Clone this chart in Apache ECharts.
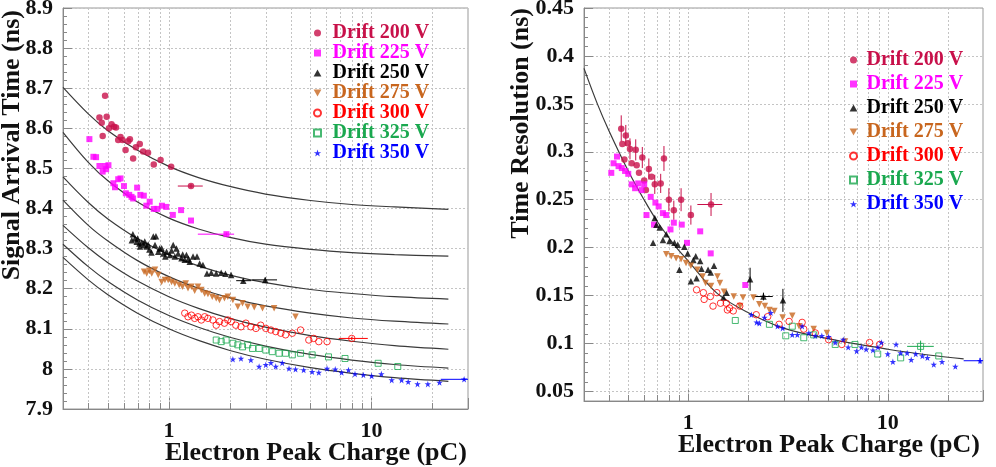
<!DOCTYPE html>
<html>
<head>
<meta charset="utf-8">
<script src="https://cdn.jsdelivr.net/npm/echarts@6.0.0/dist/echarts.min.js"></script>
<style>
  html, body { margin: 0; padding: 0; background: #fff; }
  #chart { width: 996px; height: 467px; }
</style>
</head>
<body>
<div id="chart"></div>
<script>
  var names = ['Drift 200 V', 'Drift 225 V', 'Drift 250 V', 'Drift 275 V', 'Drift 300 V', 'Drift 325 V', 'Drift 350 V'];
  var colors = ['#c8104a', '#ff00ff', '#000000', '#c8661e', '#ff0000', '#1aa84f', '#0000ff'];

  // tick labels on the log axes
  var xTickLabels = [1, 10];
  // light grid lines in x (ROOT log grid)
  var gridX = [0.4, 0.5, 0.6, 0.7, 0.8, 0.9, 1, 2, 3, 4, 5, 6, 7, 8, 9, 10, 20];

  /* ---- left: signal arrival time (ns) ---- */
  var L200 = [[0.484,8.681],[0.454,8.627],[0.493,8.629],[0.466,8.614],[0.471,8.581],[0.506,8.600],[0.521,8.610],[0.536,8.604],[0.548,8.602],[0.562,8.571],[0.577,8.578],[0.590,8.571],[0.611,8.546],[0.630,8.568],[0.642,8.573],[0.666,8.525],[0.687,8.553],[0.718,8.561],[0.746,8.542],[0.789,8.539],[0.842,8.510],[0.910,8.521],[1.026,8.504],[1.286,8.456]];
  var L225 = [[0.405,8.573],[0.424,8.529],[0.437,8.528],[0.454,8.506],[0.471,8.492],[0.484,8.506],[0.503,8.508],[0.490,8.498],[0.562,8.473],[0.577,8.475],[0.532,8.463],[0.542,8.453],[0.600,8.456],[0.613,8.438],[0.637,8.434],[0.654,8.429],[0.666,8.425],[0.697,8.452],[0.723,8.434],[0.752,8.432],[0.774,8.407],[0.804,8.417],[0.842,8.399],[0.877,8.399],[0.924,8.407],[0.970,8.404],[1.046,8.384],[1.149,8.396],[1.286,8.370],[1.924,8.336]];
  var L250 = [[0.664,8.336],[0.656,8.321],[0.681,8.326],[0.694,8.317],[0.715,8.313],[0.735,8.315],[0.754,8.309],[0.777,8.305],[0.801,8.298],[0.838,8.330],[0.854,8.309],[0.863,8.331],[0.886,8.292],[0.921,8.301],[0.938,8.288],[0.974,8.292],[1.011,8.284],[1.050,8.309],[1.070,8.280],[1.111,8.288],[1.154,8.276],[1.198,8.272],[1.221,8.284],[1.268,8.267],[1.316,8.280],[1.377,8.280],[1.419,8.263],[1.473,8.259],[1.542,8.238],[1.619,8.240],[1.713,8.238],[1.813,8.240],[1.902,8.237],[2.03,8.234],[2.33,8.220],[2.99,8.222],[0.70,8.325],[0.72,8.305],[0.76,8.318],[0.79,8.310],[0.82,8.290],[0.90,8.300],[0.96,8.280],[1.03,8.295],[1.09,8.300],[1.17,8.285],[1.25,8.275]];
  var L275 = [[0.754,8.242],[0.777,8.238],[0.801,8.245],[0.823,8.238],[0.854,8.247],[0.886,8.234],[0.921,8.217],[0.956,8.222],[0.992,8.222],[1.031,8.217],[1.070,8.213],[1.124,8.209],[1.167,8.205],[1.211,8.213],[1.243,8.201],[1.292,8.205],[1.341,8.195],[1.392,8.205],[1.446,8.197],[1.502,8.188],[1.559,8.187],[1.637,8.180],[1.713,8.176],[1.778,8.172],[1.881,8.176],[1.954,8.180],[2.07,8.172],[2.19,8.155],[2.31,8.164],[2.45,8.155],[2.64,8.154],[2.90,8.151],[3.31,8.151],[4.22,8.130]];
  var L300 = [[1.198,8.139],[1.243,8.130],[1.292,8.134],[1.341,8.126],[1.392,8.130],[1.446,8.122],[1.502,8.130],[1.559,8.126],[1.649,8.122],[1.713,8.109],[1.778,8.118],[1.881,8.114],[1.954,8.122],[2.03,8.118],[2.14,8.109],[2.27,8.105],[2.40,8.114],[2.54,8.105],[2.69,8.101],[2.84,8.109],[3.01,8.101],[3.19,8.097],[3.37,8.093],[3.57,8.089],[3.77,8.085],[4.07,8.089],[4.47,8.097],[4.91,8.072],[5.19,8.076],[5.50,8.068],[6.04,8.068],[8.0,8.076]];
  var L325 = [[1.713,8.072],[1.813,8.068],[1.917,8.072],[2.07,8.064],[2.19,8.060],[2.31,8.055],[2.45,8.060],[2.59,8.051],[2.79,8.051],[3.01,8.047],[3.24,8.043],[3.50,8.039],[3.77,8.039],[4.07,8.035],[4.47,8.039],[5.10,8.035],[6.14,8.030],[7.41,8.026],[10.8,8.014],[13.5,8.006]];
  var L350 = [[2.07,8.024],[2.27,8.026],[2.54,8.022],[2.79,8.006],[3.01,8.010],[3.19,8.015],[3.37,8.006],[3.63,8.015],[3.92,8.001],[4.22,7.999],[4.63,7.997],[5.10,7.993],[5.50,7.991],[6.04,8.001],[6.63,7.999],[7.13,7.991],[7.71,7.997],[8.30,7.987],[9.13,7.985],[10.03,7.982],[11.2,7.987],[12.6,7.972],[14.1,7.972],[15.2,7.968],[16.9,7.962],[19.0,7.962],[21.7,7.966],[28.7,7.974]];

  // error bars: [x, y, xlo, xhi, ylo, yhi]
  var eL200 = [[1.286,8.456,1.107,1.47,8.451,8.461]];
  var eL225 = [[1.924,8.336,1.39,2.1,8.332,8.340]];
  var eL250 = [[2.33,8.220,2.15,2.55,8.216,8.224],[2.99,8.222,2.58,3.42,8.216,8.228]];
  var eL300 = [[8.0,8.076,6.9,9.6,8.072,8.080]];
  var eL350 = [[28.7,7.974,22,36,7.971,7.977]];

  // fitted curves, read at these charges
  var fitX = [0.3, 0.4, 0.5, 0.7, 1, 1.4, 2, 3, 5, 8, 13, 24];
  var fit200 = [8.702, 8.636, 8.594, 8.545, 8.505, 8.477, 8.455, 8.436, 8.420, 8.410, 8.404, 8.398];
  var fit225 = [8.590, 8.515, 8.469, 8.416, 8.376, 8.349, 8.328, 8.311, 8.298, 8.290, 8.285, 8.281];
  var fit250 = [8.479, 8.415, 8.374, 8.325, 8.285, 8.257, 8.234, 8.215, 8.198, 8.188, 8.180, 8.174];
  var fit275 = [8.421, 8.358, 8.319, 8.270, 8.230, 8.201, 8.177, 8.157, 8.139, 8.127, 8.119, 8.112];
  var fit300 = [8.358, 8.302, 8.265, 8.219, 8.180, 8.151, 8.126, 8.104, 8.083, 8.069, 8.058, 8.049];
  var fit325 = [8.311, 8.255, 8.218, 8.172, 8.133, 8.104, 8.079, 8.057, 8.036, 8.022, 8.011, 8.002];
  var fit350 = [8.278, 8.222, 8.185, 8.139, 8.100, 8.071, 8.046, 8.024, 8.003, 7.989, 7.978, 7.969];

  /* ---- right: time resolution (ns) ---- */
  var R200 = [[0.461,0.324],[0.486,0.317],[0.467,0.308],[0.497,0.309],[0.510,0.303],[0.545,0.302],[0.478,0.292],[0.520,0.288],[0.551,0.286],[0.588,0.294],[0.566,0.278],[0.634,0.282],[0.654,0.274],[0.601,0.270],[0.679,0.266],[0.727,0.267],[0.613,0.260],[0.755,0.293],[0.799,0.250],[0.920,0.250],[0.846,0.239],[1.03,0.234],[1.30,0.245]];
  var R225 = [[0.411,0.278],[0.422,0.288],[0.439,0.295],[0.447,0.285],[0.464,0.283],[0.482,0.280],[0.500,0.277],[0.520,0.266],[0.541,0.262],[0.561,0.267],[0.583,0.260],[0.601,0.266],[0.617,0.234],[0.648,0.253],[0.673,0.224],[0.684,0.247],[0.710,0.243],[0.746,0.236],[0.775,0.234],[0.814,0.219],[0.846,0.226],[0.927,0.224],[0.985,0.205],[1.147,0.217],[1.295,0.194],[1.93,0.161]];
  var R250 = [[0.679,0.231],[0.692,0.224],[0.719,0.221],[0.666,0.205],[0.746,0.208],[0.775,0.214],[0.805,0.207],[0.852,0.205],[0.885,0.203],[0.955,0.201],[0.992,0.194],[0.902,0.177],[1.03,0.165],[1.09,0.191],[1.147,0.186],[1.164,0.178],[1.256,0.177],[1.295,0.174],[1.345,0.181],[1.554,0.153],[2.04,0.167],[2.38,0.149],[2.98,0.145],[1.06,0.187],[1.10,0.168],[1.50,0.148]];
  var R275 = [[0.775,0.193],[0.821,0.191],[0.869,0.189],[0.920,0.188],[0.974,0.184],[1.03,0.181],[1.11,0.177],[1.18,0.170],[1.22,0.163],[1.30,0.160],[1.40,0.170],[1.51,0.154],[1.69,0.149],[1.82,0.139],[2.12,0.148],[2.42,0.139],[1.44,0.163],[1.88,0.148],[2.27,0.141],[2.55,0.135],[2.70,0.134],[2.97,0.127],[3.32,0.129],[3.59,0.118],[4.25,0.115],[4.95,0.111],[6.1,0.102]];
  var R300 = [[1.10,0.156],[1.19,0.153],[1.29,0.149],[1.39,0.153],[1.55,0.142],[1.61,0.137],[1.81,0.139],[2.19,0.130],[2.50,0.128],[2.85,0.120],[3.20,0.123],[3.72,0.122],[3.79,0.115],[4.33,0.111],[5.05,0.104],[5.88,0.099],[8.1,0.101],[9.1,0.099],[1.20,0.146],[1.33,0.139],[1.45,0.142],[1.57,0.135],[1.68,0.134]];
  var R325 = [[1.72,0.124],[2.55,0.120],[3.08,0.108],[3.32,0.118],[3.79,0.106],[4.25,0.109],[5.45,0.099],[6.84,0.099],[8.9,0.089],[11.6,0.085],[14.6,0.097],[18.0,0.087]];
  var R350 = [[2.07,0.130],[2.20,0.122],[2.27,0.121],[2.41,0.127],[2.59,0.132],[2.80,0.118],[2.97,0.116],[3.32,0.109],[3.52,0.109],[3.72,0.118],[4.02,0.111],[4.33,0.108],[4.67,0.108],[5.05,0.107],[5.45,0.101],[5.98,0.104],[6.33,0.096],[6.98,0.092],[7.37,0.096],[7.79,0.094],[8.42,0.093],[8.92,0.096],[9.28,0.101],[9.99,0.089],[10.6,0.081],[11.0,0.099],[11.6,0.090],[12.5,0.090],[13.1,0.083],[13.8,0.089],[14.9,0.087],[15.8,0.085],[17.0,0.078],[18.7,0.081],[21.8,0.076],[29,0.082]];

  var eR200 = [[0.461,0.324,0.461,0.461,0.311,0.338],[0.486,0.317,0.486,0.486,0.306,0.328],[0.510,0.303,0.510,0.510,0.292,0.314],[0.545,0.302,0.545,0.545,0.291,0.313],[0.588,0.294,0.588,0.588,0.283,0.305],[0.634,0.282,0.634,0.634,0.271,0.293],[0.679,0.266,0.679,0.679,0.256,0.276],[0.727,0.267,0.727,0.727,0.257,0.277],[0.755,0.293,0.755,0.755,0.280,0.306],[0.799,0.250,0.799,0.799,0.238,0.262],[0.846,0.239,0.846,0.846,0.229,0.249],[0.920,0.250,0.920,0.920,0.238,0.262],[1.03,0.234,1.03,1.03,0.224,0.244],[1.30,0.245,1.11,1.48,0.233,0.257]];
  var eR250 = [[2.04,0.167,2.04,2.04,0.155,0.179],[2.38,0.149,2.15,2.65,0.145,0.153],[2.98,0.145,2.98,2.98,0.133,0.157]];
  var eR325 = [[14.6,0.097,12.5,17,0.091,0.103]];
  var eR350 = [[29,0.082,24,35,0.079,0.085]];

  var fitRX = [0.3, 0.35, 0.4, 0.5, 0.6, 0.7, 0.85, 1, 1.4, 2, 3, 5, 10, 16, 24];
  var fitRY = [0.387, 0.350, 0.322, 0.280, 0.250, 0.227, 0.203, 0.186, 0.152, 0.132, 0.116, 0.105, 0.094, 0.088, 0.084];

  var square = 'path://M0,0L10,0L10,10L0,10Z';
  var upTri = 'path://M5,0L10,9L0,9Z';
  var downTri = 'path://M0,0L10,0L5,9Z';
  var star = 'path://M5,0L6.2,3.6L10,3.6L7,5.8L8.1,9.5L5,7.2L1.9,9.5L3,5.8L0,3.6L3.8,3.6Z';
  var symbols = ['circle', square, upTri, downTri, 'circle', square, star];
  var hollow = [false, false, false, false, true, true, false];
  var sizes = [6.5, 6, 6.5, 6.5, 6.5, 6, 6.5];

  var FONT = '"Liberation Serif", "DejaVu Serif", serif';
  var chart = echarts.init(document.getElementById('chart'));

  function scatter(i, data, ax) {
    return {
      name: names[i], type: 'scatter', xAxisIndex: ax, yAxisIndex: ax, data: data,
      symbol: symbols[i], symbolSize: sizes[i], z: 4, silent: true,
      itemStyle: hollow[i]
        ? {color: 'rgba(255,255,255,0)', borderColor: colors[i], borderWidth: 1}
        : {color: colors[i]}
    };
  }

  function fitLine(xs, ys, ax) {
    return {
      type: 'line', xAxisIndex: ax, yAxisIndex: ax, z: 2, silent: true,
      data: xs.map(function (x, k) { return [x, ys[k]]; }),
      symbol: 'none', smooth: 0.35,
      lineStyle: {color: '#3a3a3a', width: 1.2}
    };
  }

  function errSeries(i, data, ax) {
    return {
      type: 'custom', xAxisIndex: ax, yAxisIndex: ax, z: 3, silent: true, data: data, clip: true,
      encode: {x: 0, y: 1}, itemStyle: {color: colors[i]},
      renderItem: function (params, api) {
        var y = api.value(1), x = api.value(0);
        var a = api.coord([api.value(2), y]), b = api.coord([api.value(3), y]);
        var c = api.coord([x, api.value(4)]), d = api.coord([x, api.value(5)]);
        var st = {stroke: colors[i], lineWidth: 1};
        return {type: 'group', children: [
          {type: 'line', shape: {x1: a[0], y1: a[1], x2: b[0], y2: b[1]}, style: st},
          {type: 'line', shape: {x1: c[0], y1: c[1], x2: d[0], y2: d[1]}, style: st}
        ]};
      }
    };
  }

  // vertical dotted grid + small minor ticks on the log x axes
  function gridSeries(ax, yRef) {
    return {
      type: 'custom', xAxisIndex: ax, yAxisIndex: ax, z: 1, silent: true,
      data: gridX.map(function (v) { return [v, yRef]; }),
      encode: {x: 0, y: 1},
      renderItem: function (params, api) {
        var cs = params.coordSys;
        var px = Math.round(api.coord([api.value(0), api.value(1)])[0]) + 0.5;
        var bottom = cs.y + cs.height;
        return {type: 'group', children: [
          {type: 'line', shape: {x1: px, y1: cs.y, x2: px, y2: bottom},
            style: {stroke: '#c4c4c4', lineWidth: 1, lineDash: [2, 2]}},
          {type: 'line', shape: {x1: px, y1: bottom, x2: px, y2: bottom - 6},
            style: {stroke: '#888', lineWidth: 1}}
        ]};
      }
    };
  }

  function xAxisCfg(gi) {
    return {
      type: 'log', logBase: 10, gridIndex: gi, min: 0.3, max: 30,
      axisLine: {show: true, lineStyle: {color: '#888'}},
      axisTick: {inside: true, length: 11, lineStyle: {color: '#888'}},
      splitLine: {show: false},
      axisLabel: {
        margin: 11, fontSize: 22, fontWeight: 'bold', fontFamily: FONT, color: '#111',
        formatter: function (v) {
          var hit = xTickLabels.filter(function (t) { return Math.abs(v - t) < 1e-6 * t; });
          return hit.length ? String(hit[0]) : '';
        }
      }
    };
  }

  var yCommon = {
    axisLine: {show: true, lineStyle: {color: '#888'}},
    axisTick: {inside: true, length: 9, lineStyle: {color: '#888'}},
    minorTick: {show: true, splitNumber: 5, length: 4, lineStyle: {color: '#888'}},
    splitLine: {show: true, lineStyle: {color: '#c4c4c4', type: [2, 2]}},
    axisLabel: {margin: 10, fontSize: 22, fontWeight: 'bold', fontFamily: FONT, color: '#111'}
  };

  function legendCfg(left, top, itemW, lh) {
    return {
      orient: 'vertical', left: left, top: top, itemWidth: itemW, itemHeight: 7, itemGap: 0,
      selectedMode: false, symbolKeepAspect: true,
      textStyle: {fontFamily: FONT, fontWeight: 'bold', fontSize: 20, lineHeight: lh},
      data: names.map(function (n, i) {
        return {name: n, icon: symbols[i], textStyle: {color: colors[i]}};
      })
    };
  }

  function titleText(x, y, text, rot, align) {
    return {
      type: 'text', x: x, y: y, rotation: rot, silent: true,
      style: {text: text, fill: '#111', fontFamily: FONT, fontWeight: 'bold', fontSize: 26,
        textAlign: align, textVerticalAlign: 'middle'}
    };
  }

  var series = [gridSeries(0, 8.4), gridSeries(1, 0.2)];
  [fit200, fit225, fit250, fit275, fit300, fit325, fit350].forEach(function (ys) {
    series.push(fitLine(fitX, ys, 0));
  });
  series.push(fitLine(fitRX, fitRY, 1));
  [L200, L225, L250, L275, L300, L325, L350].forEach(function (d, i) { series.push(scatter(i, d, 0)); });
  [R200, R225, R250, R275, R300, R325, R350].forEach(function (d, i) { series.push(scatter(i, d, 1)); });
  series.push(errSeries(0, eL200, 0), errSeries(1, eL225, 0), errSeries(2, eL250, 0),
    errSeries(4, eL300, 0), errSeries(6, eL350, 0));
  series.push(errSeries(0, eR200, 1), errSeries(2, eR250, 1), errSeries(5, eR325, 1), errSeries(6, eR350, 1));

  chart.setOption({
    animation: false,
    backgroundColor: '#fff',
    grid: [
      {left: 63, top: 8, width: 405, height: 401, show: true, borderColor: '#999', borderWidth: 1,
        backgroundColor: 'transparent', outerBoundsMode: 'none'},
      {left: 584, top: 8, width: 399, height: 393, show: true, borderColor: '#999', borderWidth: 1,
        backgroundColor: 'transparent', outerBoundsMode: 'none'}
    ],
    xAxis: [xAxisCfg(0), xAxisCfg(1)],
    yAxis: [
      Object.assign({type: 'value', gridIndex: 0, min: 7.9, max: 8.9, interval: 0.1}, yCommon),
      Object.assign({type: 'value', gridIndex: 1, min: 0.04, max: 0.45, splitNumber: 8}, yCommon,
        {axisLabel: Object.assign({}, yCommon.axisLabel, {showMinLabel: false})})
    ],
    legend: [legendCfg(308, 18, 20, 20), legendCfg(844, 43, 16, 24)],
    graphic: [
      titleText(467, 453, 'Electron Peak Charge (pC)', 0, 'right'),
      titleText(980, 445, 'Electron Peak Charge (pC)', 0, 'right'),
      titleText(12, 10, 'Signal Arrival Time (ns)', Math.PI / 2, 'right'),
      titleText(521, 8, 'Time Resolution (ns)', Math.PI / 2, 'right')
    ],
    series: series
  });
</script>
</body>
</html>
